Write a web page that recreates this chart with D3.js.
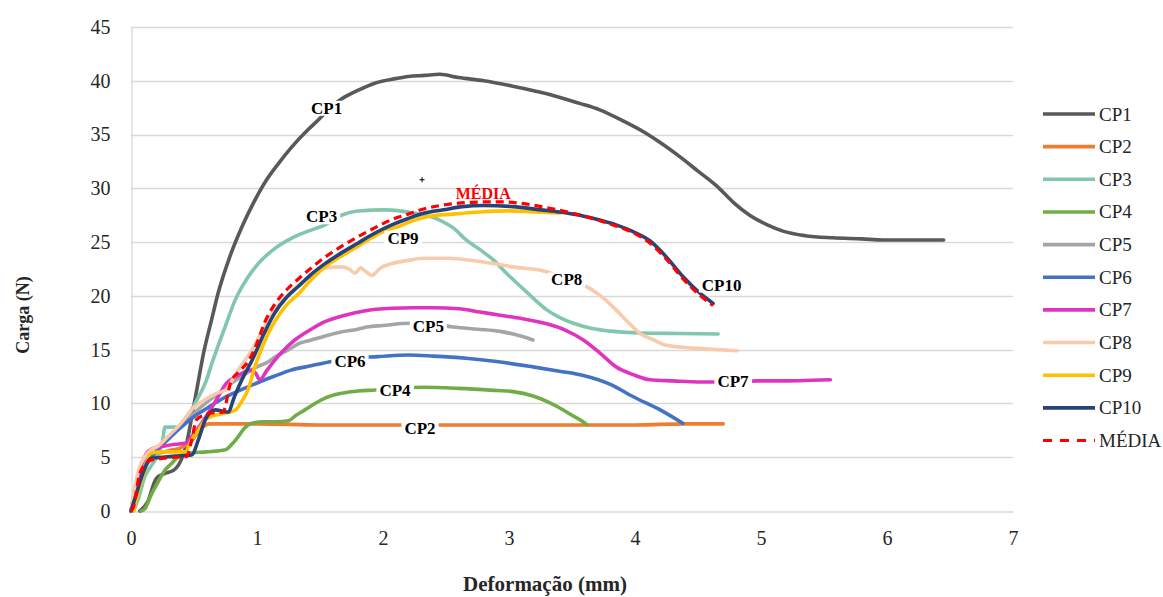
<!DOCTYPE html>
<html>
<head>
<meta charset="utf-8">
<script src="https://cdn.jsdelivr.net/npm/d3@7"></script>
<style>
  html, body { margin: 0; padding: 0; background: #ffffff; }
  svg { display: block; }
  text { font-family: "Liberation Serif", "Times New Roman", serif; }
</style>
</head>
<body>
<svg id="chart" width="1163" height="597"></svg>
<script>
// ---------- DATA ----------
const xTicks = [0, 1, 2, 3, 4, 5, 6, 7];
const yTicks = [0, 5, 10, 15, 20, 25, 30, 35, 40, 45];
const seriesNames = ["CP1", "CP2", "CP3", "CP4", "CP5", "CP6", "CP7", "CP8", "CP9", "CP10", "MÉDIA"];

const cp1 = [[0.07,0],[0.13,0.8],[0.20,3.0],[0.27,3.5],[0.34,3.8],[0.40,4.8],[0.44,6.2],[0.48,8.6],[0.53,11.8],[0.58,14.9],[0.64,17.8],[0.69,20.2],[0.78,23.5],[0.88,26.4],[0.97,28.6],[1.06,30.5],[1.17,32.3],[1.28,33.9],[1.40,35.4],[1.49,36.4],[1.58,37.5],[1.67,38.3],[1.80,39.1],[1.94,39.8],[2.10,40.2],[2.20,40.4],[2.33,40.5],[2.45,40.6],[2.60,40.3],[2.80,40.0],[3.03,39.5],[3.30,38.8],[3.56,37.9],[3.72,37.3],[3.90,36.3],[4.09,35.1],[4.22,34.1],[4.36,32.9],[4.50,31.6],[4.65,30.2],[4.78,28.7],[4.91,27.5],[5.05,26.6],[5.18,26.0],[5.35,25.6],[5.57,25.4],[5.80,25.3],[5.97,25.2],[6.20,25.2],[6.45,25.2]];
const cp2 = [[0,0],[0.04,2.0],[0.08,4.0],[0.13,5.0],[0.20,5.3],[0.30,5.6],[0.40,5.9],[0.48,6.5],[0.53,7.3],[0.58,7.9],[0.62,8.1],[0.80,8.1],[1.0,8.1],[1.5,8.0],[2.0,8.0],[2.5,8.0],[3.0,8.0],[3.5,8.0],[4.0,8.0],[4.4,8.1],[4.7,8.1]];
const cp3 = [[0.02,0],[0.06,1.2],[0.11,3.2],[0.16,4.2],[0.21,5.1],[0.25,6.5],[0.27,7.8],[0.37,7.8],[0.42,8.4],[0.48,9.4],[0.54,10.7],[0.59,11.9],[0.65,14.0],[0.74,16.9],[0.83,19.7],[0.92,21.6],[1.01,23.0],[1.14,24.4],[1.28,25.4],[1.40,26.0],[1.54,26.6],[1.67,27.5],[1.80,27.9],[2.02,28.0],[2.24,27.7],[2.45,27.05],[2.56,26.3],[2.66,25.2],[2.77,24.3],[2.88,23.3],[2.98,22.1],[3.09,20.9],[3.20,19.7],[3.30,18.7],[3.40,18.0],[3.51,17.45],[3.65,17.0],[3.83,16.7],[4.05,16.55],[4.35,16.5],[4.66,16.45]];
const cp4 = [[0.08,0],[0.11,0.2],[0.16,1.5],[0.22,2.8],[0.27,3.8],[0.32,4.4],[0.375,5.05],[0.42,5.3],[0.48,5.4],[0.60,5.5],[0.75,5.7],[0.80,6.2],[0.85,6.9],[0.90,7.7],[0.96,8.15],[1.05,8.3],[1.15,8.3],[1.25,8.4],[1.31,8.9],[1.38,9.4],[1.46,10.0],[1.54,10.5],[1.65,10.9],[1.80,11.15],[1.94,11.25],[2.10,11.4],[2.32,11.5],[2.60,11.4],[2.90,11.2],[3.03,11.1],[3.19,10.7],[3.30,10.2],[3.40,9.6],[3.50,8.9],[3.60,8.2],[3.62,8.0]];
const cp5 = [[0,0],[0.05,2.5],[0.10,4.2],[0.15,5.0],[0.22,5.8],[0.30,6.8],[0.38,7.8],[0.45,8.5],[0.52,9.3],[0.60,10.1],[0.70,11.0],[0.80,11.9],[0.90,12.7],[1.0,13.4],[1.08,13.8],[1.14,14.3],[1.25,15.0],[1.34,15.6],[1.43,15.9],[1.55,16.3],[1.65,16.6],[1.80,16.9],[1.87,17.1],[2.0,17.25],[2.21,17.45],[2.40,17.4],[2.56,17.1],[2.75,16.9],[2.93,16.7],[3.05,16.4],[3.19,15.9]];
const cp6 = [[0,0],[0.05,2.3],[0.10,3.8],[0.15,4.8],[0.22,5.8],[0.29,6.6],[0.38,7.6],[0.48,8.6],[0.61,9.6],[0.75,10.6],[0.90,11.4],[1.0,11.9],[1.13,12.5],[1.27,13.1],[1.43,13.5],[1.59,13.9],[1.75,14.2],[1.96,14.35],[2.2,14.5],[2.4,14.4],[2.66,14.2],[2.9,13.9],[3.19,13.4],[3.4,13.0],[3.59,12.6],[3.8,11.8],[3.99,10.6],[4.2,9.4],[4.38,8.15]];
const cp7 = [[0,0],[0.04,2.5],[0.08,4.2],[0.12,5.3],[0.17,5.8],[0.25,6.0],[0.35,6.2],[0.43,6.3],[0.50,7.2],[0.58,8.5],[0.65,9.8],[0.70,10.8],[0.76,11.9],[0.82,12.4],[0.88,12.8],[0.94,13.1],[0.99,12.8],[1.02,12.2],[1.08,13.1],[1.14,14.0],[1.20,14.8],[1.30,15.9],[1.43,16.9],[1.54,17.6],[1.70,18.2],[1.85,18.6],[2.07,18.85],[2.24,18.9],[2.40,18.9],[2.60,18.8],[2.77,18.5],[2.93,18.2],[3.10,17.9],[3.30,17.4],[3.45,16.8],[3.59,15.9],[3.72,14.7],[3.85,13.4],[3.98,12.7],[4.12,12.2],[4.30,12.1],[4.50,12.0],[4.70,12.0],[4.98,12.1],[5.20,12.1],[5.40,12.15],[5.55,12.2]];
const cp8 = [[0,0],[0.03,2.2],[0.06,3.8],[0.11,5.05],[0.16,5.7],[0.21,6.0],[0.30,7.0],[0.40,8.2],[0.48,9.4],[0.58,10.3],[0.67,10.9],[0.75,11.25],[0.80,12.1],[0.85,13.1],[0.91,14.1],[0.96,15.0],[1.05,16.9],[1.14,18.7],[1.25,20.1],[1.35,21.2],[1.45,22.0],[1.54,22.6],[1.67,22.7],[1.73,22.5],[1.78,22.1],[1.82,22.6],[1.86,22.3],[1.91,21.9],[1.98,22.6],[2.07,23.0],[2.20,23.3],[2.33,23.5],[2.51,23.5],[2.77,23.2],[3.03,22.7],[3.30,22.25],[3.45,21.6],[3.64,20.7],[3.75,19.8],[3.85,18.7],[3.95,17.5],[4.04,16.5],[4.15,15.9],[4.25,15.4],[4.40,15.2],[4.52,15.1],[4.81,14.9]];
const cp9 = [[0.02,0],[0.05,1.5],[0.11,3.8],[0.16,5.4],[0.25,5.5],[0.35,5.5],[0.43,5.5],[0.48,6.6],[0.54,7.6],[0.59,8.5],[0.64,8.8],[0.75,9.1],[0.83,9.4],[0.88,10.2],[0.93,11.3],[0.98,13.3],[1.03,14.9],[1.09,16.5],[1.14,17.6],[1.23,19.1],[1.33,20.2],[1.43,21.5],[1.54,22.7],[1.67,23.7],[1.80,24.6],[1.91,25.4],[2.02,26.1],[2.11,26.4],[2.24,27.0],[2.37,27.4],[2.55,27.6],[2.77,27.8],[3.00,27.9],[3.20,27.8],[3.40,27.7]];
const cp10 = [[0,0],[0.04,1.5],[0.085,3.2],[0.16,4.9],[0.25,5.0],[0.35,5.1],[0.48,5.2],[0.54,6.8],[0.59,8.5],[0.67,9.4],[0.72,9.3],[0.77,9.2],[0.82,10.6],[0.88,12.2],[0.96,14.0],[1.06,16.6],[1.14,18.4],[1.23,19.8],[1.33,20.9],[1.43,22.0],[1.54,23.0],[1.67,24.0],[1.80,24.9],[1.93,25.8],[2.07,26.6],[2.20,27.2],[2.33,27.7],[2.48,28.0],[2.63,28.3],[2.80,28.4],[3.03,28.3],[3.25,28.0],[3.40,27.8],[3.56,27.5],[3.72,27.05],[3.85,26.6],[3.98,26.0],[4.12,25.1],[4.25,23.6],[4.38,21.8],[4.52,20.2],[4.62,19.3]];
const media = [[0,0],[0.02,0.4],[0.07,3.5],[0.15,4.7],[0.25,4.9],[0.35,5.0],[0.44,5.05],[0.48,6.5],[0.52,8.5],[0.58,8.9],[0.63,9.1],[0.73,9.2],[0.79,11.9],[0.87,13.1],[0.93,13.9],[1.0,15.6],[1.06,17.5],[1.14,19.2],[1.23,20.5],[1.33,21.6],[1.43,22.6],[1.54,23.6],[1.67,24.6],[1.80,25.5],[1.93,26.3],[2.07,27.1],[2.20,27.6],[2.33,28.1],[2.51,28.5],[2.70,28.7],[2.90,28.75],[3.10,28.6],[3.30,28.2],[3.50,27.7],[3.72,27.0],[3.85,26.5],[3.98,25.9],[4.12,24.9],[4.25,23.4],[4.38,21.6],[4.52,20.0],[4.62,19.1]];

// in-chart annotation labels (anchor in data units)
const annotations = [
  ["CP1", 1.553, 37.44], ["CP3", 1.513, 27.36], ["CP9", 2.159, 25.36], ["MÉDIA", 2.796, 29.54],
  ["CP8", 3.458, 21.48], ["CP10", 4.688, 21.01], ["CP5", 2.36, 17.14], ["CP6", 1.738, 13.88],
  ["CP4", 2.095, 11.25], ["CP2", 2.294, 7.69], ["CP7", 4.778, 12.02]
];
const strayMarks = [[2.31, 30.8]];

const colors = ["#595959", "#ED7D31", "#82C7AB", "#70AD47", "#A5A5A5", "#4472C4", "#E034C0", "#F8CBAD", "#FFC000", "#264478", "#FF0000"];
const allSeries = [cp1, cp2, cp3, cp4, cp5, cp6, cp7, cp8, cp9, cp10, media];

// ---------- CHART ----------
const FONT = "'Liberation Serif', 'Times New Roman', serif";
const svg = d3.select("#chart");
const x = d3.scaleLinear().domain([0, 7]).range([131, 1013]);
const y = d3.scaleLinear().domain([0, 45]).range([511, 27]);

// gridlines
svg.append("g").selectAll("line").data(yTicks.filter(d => d > 0)).join("line")
  .attr("x1", x(0)).attr("x2", x(7))
  .attr("y1", d => Math.round(y(d)) + 0.5).attr("y2", d => Math.round(y(d)) + 0.5)
  .attr("stroke", "#D9D9D9").attr("stroke-width", 1.3);

// axes
const xAxis = svg.append("g").attr("transform", `translate(0,${Math.round(y(0)) + 0.5})`)
  .call(d3.axisBottom(x).tickValues(xTicks).tickSize(0).tickPadding(19).tickFormat(d3.format("d")));
const yAxis = svg.append("g").attr("transform", `translate(${x(0) + 0.5},0)`)
  .call(d3.axisLeft(y).tickValues(yTicks).tickSize(0).tickPadding(21).tickFormat(d3.format("d")));
[xAxis, yAxis].forEach(a => {
  a.attr("font-family", FONT);
  a.select(".domain").attr("stroke", "#D9D9D9").attr("stroke-width", 1.3);
  a.selectAll("text").attr("font-family", FONT).attr("font-size", 20).attr("fill", "#262626");
});

// lines
const line = d3.line().x(d => x(d[0])).y(d => y(d[1])).curve(d3.curveMonotoneX);
svg.append("g").selectAll("path").data(allSeries).join("path")
  .attr("d", line)
  .attr("fill", "none")
  .attr("stroke", (d, i) => colors[i])
  .attr("stroke-width", (d, i) => i === 10 ? 3.2 : 3.6)
  .attr("stroke-dasharray", (d, i) => i === 10 ? "8,5" : null)
  .attr("stroke-linejoin", "round")
  .attr("stroke-linecap", (d, i) => i === 10 ? "butt" : "round");

// stray mark
svg.append("g").selectAll("path").data(strayMarks).join("path")
  .attr("d", d => `M${x(d[0]) - 2.5},${y(d[1])}h5M${x(d[0])},${y(d[1]) - 2.5}v5`)
  .attr("stroke", "#000").attr("stroke-width", 1);

// annotation labels with white boxes
const ann = svg.append("g").selectAll("g").data(annotations).join("g");
ann.each(function(d) {
  const g = d3.select(this);
  const t = g.append("text")
    .attr("x", x(d[1])).attr("y", y(d[2]))
    .attr("text-anchor", "middle").attr("dominant-baseline", "central")
    .attr("font-family", FONT)
    .attr("font-size", d[0] === "MÉDIA" ? 16 : 17).attr("font-weight", "bold")
    .attr("fill", d[0] === "MÉDIA" ? "#FF0000" : "#000000")
    .text(d[0]);
  if (d[0] !== "MÉDIA") {
    const b = t.node().getBBox();
    g.insert("rect", "text").attr("x", b.x - 3).attr("y", b.y + 2).attr("width", b.width + 6).attr("height", b.height - 4).attr("fill", "#fff");
  }
});

// legend
const legend = svg.append("g").selectAll("g").data(seriesNames).join("g")
  .attr("transform", (d, i) => `translate(1043,${114 + i * 32.65})`);
legend.append("line").attr("x1", 0).attr("x2", 52).attr("y1", 0).attr("y2", 0)
  .attr("stroke", (d, i) => colors[i]).attr("stroke-width", (d, i) => i === 10 ? 3.2 : 3.6)
  .attr("stroke-dasharray", (d, i) => i === 10 ? "9,8" : null);
legend.append("text").attr("x", 56).attr("y", 0).attr("dominant-baseline", "central")
  .attr("font-family", FONT)
  .attr("font-size", 19).attr("fill", "#262626").text(d => d);

// axis titles
svg.append("text").attr("x", 545).attr("y", 591).attr("text-anchor", "middle")
  .attr("font-family", FONT)
  .attr("font-size", 21).attr("font-weight", "bold").attr("fill", "#262626").text("Deformação (mm)");
svg.append("text").attr("transform", "translate(23,315) rotate(-90)").attr("text-anchor", "middle")
  .attr("dominant-baseline", "central").attr("font-family", FONT)
  .attr("font-size", 18).attr("font-weight", "bold").attr("fill", "#262626").text("Carga (N)");
</script>
</body>
</html>
